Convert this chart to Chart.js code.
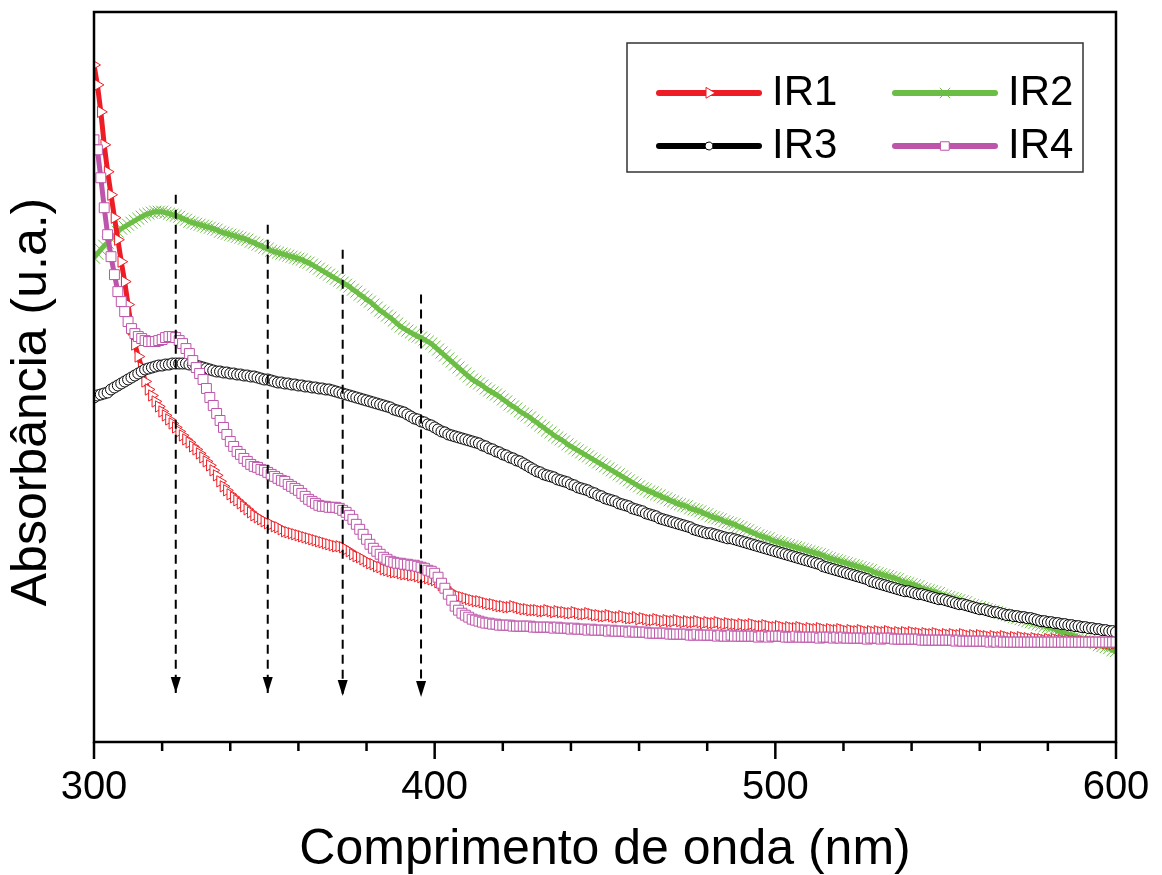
<!DOCTYPE html>
<html>
<head>
<meta charset="utf-8">
<script src="https://cdn.jsdelivr.net/npm/chart.js@4.4.1/dist/chart.umd.min.js"></script>
<style>
    html, body { margin: 0; padding: 0; background: #fff; }
    #wrap { width: 1162px; height: 875px; }
</style>
</head>
<body>
<div id="wrap"><canvas id="uv" width="1162" height="875"></canvas></div>
<script>
// UV-Vis absorbance of samples IR1..IR4 (arbitrary units)
const wavelengths = [];
for (let nm = 300; nm <= 600; nm++) wavelengths.push(nm); // sampling grid, 1 nm

const ir1 = [
    0.678, 0.658, 0.631, 0.598, 0.571, 0.548, 0.525, 0.503, 0.481, 0.461,
    0.438, 0.413, 0.398, 0.386, 0.375, 0.361, 0.353, 0.347, 0.341, 0.336,
    0.331, 0.327, 0.323, 0.319, 0.315, 0.311, 0.307, 0.303, 0.300, 0.296,
    0.293, 0.289, 0.285, 0.281, 0.277, 0.272, 0.267, 0.261, 0.256, 0.252,
    0.248, 0.245, 0.242, 0.239, 0.236, 0.233, 0.230, 0.227, 0.225, 0.223,
    0.221, 0.219, 0.218, 0.216, 0.215, 0.213, 0.211, 0.210, 0.209, 0.208,
    0.207, 0.206, 0.205, 0.204, 0.203, 0.202, 0.201, 0.200, 0.199, 0.198,
    0.197, 0.196, 0.196, 0.195, 0.193, 0.191, 0.188, 0.186, 0.185, 0.183,
    0.181, 0.179, 0.178, 0.176, 0.175, 0.173, 0.172, 0.171, 0.170, 0.170,
    0.169, 0.168, 0.168, 0.167, 0.167, 0.166, 0.165, 0.165, 0.164, 0.163,
    0.162, 0.160, 0.157, 0.155, 0.152, 0.149, 0.147, 0.146, 0.145, 0.144,
    0.143, 0.142, 0.141, 0.141, 0.140, 0.139, 0.138, 0.138, 0.137, 0.136,
    0.136, 0.135, 0.135, 0.136, 0.135, 0.134, 0.133, 0.133, 0.132, 0.132,
    0.132, 0.131, 0.131, 0.132, 0.131, 0.130, 0.131, 0.130, 0.130, 0.129,
    0.129, 0.130, 0.129, 0.128, 0.128, 0.129, 0.128, 0.127, 0.127, 0.126,
    0.126, 0.127, 0.126, 0.125, 0.125, 0.126, 0.125, 0.124, 0.124, 0.125,
    0.123, 0.124, 0.123, 0.122, 0.122, 0.123, 0.122, 0.121, 0.122, 0.121,
    0.121, 0.122, 0.121, 0.120, 0.121, 0.120, 0.120, 0.121, 0.120, 0.119,
    0.120, 0.119, 0.119, 0.120, 0.119, 0.118, 0.119, 0.118, 0.118, 0.117,
    0.118, 0.117, 0.117, 0.118, 0.117, 0.116, 0.116, 0.117, 0.116, 0.115,
    0.115, 0.116, 0.115, 0.114, 0.115, 0.114, 0.114, 0.115, 0.114, 0.113,
    0.114, 0.113, 0.113, 0.114, 0.113, 0.112, 0.113, 0.112, 0.112, 0.113,
    0.112, 0.111, 0.112, 0.111, 0.111, 0.112, 0.111, 0.110, 0.111, 0.110,
    0.111, 0.110, 0.110, 0.111, 0.110, 0.109, 0.110, 0.109, 0.110, 0.109,
    0.110, 0.109, 0.109, 0.108, 0.109, 0.108, 0.108, 0.109, 0.108, 0.107,
    0.108, 0.107, 0.108, 0.107, 0.107, 0.108, 0.107, 0.106, 0.107, 0.106,
    0.107, 0.106, 0.106, 0.105, 0.106, 0.105, 0.105, 0.106, 0.105, 0.104,
    0.105, 0.104, 0.105, 0.104, 0.104, 0.103, 0.104, 0.103, 0.103, 0.102,
    0.103, 0.102, 0.103, 0.102, 0.102, 0.101, 0.102, 0.101, 0.101, 0.100,
    0.101, 0.100, 0.101, 0.100, 0.100, 0.099, 0.100, 0.099, 0.099, 0.098,
    0.099
];
const ir2 = [
    0.485, 0.489, 0.493, 0.497, 0.500, 0.504, 0.507, 0.511, 0.514, 0.516,
    0.518, 0.520, 0.522, 0.524, 0.526, 0.528, 0.529, 0.530, 0.531, 0.531,
    0.531, 0.530, 0.529, 0.528, 0.527, 0.526, 0.524, 0.523, 0.521, 0.520,
    0.519, 0.518, 0.517, 0.516, 0.515, 0.514, 0.513, 0.511, 0.510, 0.509,
    0.508, 0.507, 0.506, 0.505, 0.504, 0.503, 0.501, 0.500, 0.498, 0.497,
    0.495, 0.494, 0.492, 0.491, 0.490, 0.489, 0.488, 0.487, 0.486, 0.485,
    0.484, 0.483, 0.481, 0.480, 0.478, 0.476, 0.474, 0.472, 0.470, 0.468,
    0.466, 0.464, 0.462, 0.460, 0.458, 0.456, 0.453, 0.451, 0.448, 0.446,
    0.443, 0.441, 0.438, 0.435, 0.432, 0.430, 0.427, 0.425, 0.422, 0.419,
    0.416, 0.414, 0.412, 0.410, 0.408, 0.406, 0.405, 0.403, 0.401, 0.399,
    0.396, 0.393, 0.390, 0.387, 0.384, 0.381, 0.378, 0.375, 0.372, 0.369,
    0.366, 0.363, 0.361, 0.359, 0.357, 0.354, 0.352, 0.350, 0.348, 0.346,
    0.343, 0.341, 0.338, 0.336, 0.334, 0.331, 0.329, 0.327, 0.325, 0.322,
    0.320, 0.317, 0.315, 0.312, 0.310, 0.307, 0.305, 0.303, 0.301, 0.298,
    0.296, 0.294, 0.292, 0.290, 0.288, 0.286, 0.284, 0.282, 0.280, 0.278,
    0.276, 0.274, 0.272, 0.270, 0.268, 0.266, 0.264, 0.262, 0.260, 0.258,
    0.256, 0.254, 0.253, 0.251, 0.250, 0.248, 0.247, 0.245, 0.244, 0.242,
    0.241, 0.239, 0.238, 0.237, 0.236, 0.234, 0.233, 0.232, 0.231, 0.229,
    0.228, 0.226, 0.225, 0.224, 0.223, 0.221, 0.220, 0.219, 0.218, 0.216,
    0.215, 0.213, 0.212, 0.210, 0.209, 0.207, 0.206, 0.205, 0.204, 0.202,
    0.201, 0.200, 0.199, 0.198, 0.197, 0.196, 0.195, 0.194, 0.193, 0.192,
    0.191, 0.190, 0.189, 0.188, 0.187, 0.185, 0.184, 0.183, 0.182, 0.181,
    0.180, 0.179, 0.178, 0.177, 0.176, 0.175, 0.174, 0.173, 0.172, 0.170,
    0.169, 0.168, 0.167, 0.166, 0.165, 0.164, 0.163, 0.161, 0.160, 0.159,
    0.158, 0.157, 0.156, 0.154, 0.153, 0.152, 0.151, 0.150, 0.149, 0.147,
    0.146, 0.145, 0.144, 0.143, 0.142, 0.141, 0.140, 0.138, 0.137, 0.136,
    0.135, 0.134, 0.133, 0.132, 0.131, 0.130, 0.129, 0.128, 0.127, 0.126,
    0.125, 0.124, 0.123, 0.122, 0.121, 0.120, 0.119, 0.118, 0.117, 0.116,
    0.115, 0.114, 0.113, 0.111, 0.110, 0.109, 0.108, 0.107, 0.106, 0.104,
    0.103, 0.102, 0.101, 0.100, 0.099, 0.097, 0.096, 0.095, 0.094, 0.092,
    0.091
];
const ir3 = [
    0.345, 0.347, 0.348, 0.349, 0.350, 0.353, 0.355, 0.357, 0.359, 0.361,
    0.363, 0.365, 0.367, 0.369, 0.371, 0.373, 0.374, 0.375, 0.376, 0.377,
    0.377, 0.378, 0.378, 0.379, 0.379, 0.379, 0.379, 0.379, 0.378, 0.378,
    0.377, 0.376, 0.375, 0.374, 0.373, 0.372, 0.371, 0.371, 0.370, 0.370,
    0.369, 0.369, 0.368, 0.368, 0.367, 0.367, 0.366, 0.366, 0.365, 0.364,
    0.363, 0.363, 0.362, 0.361, 0.360, 0.360, 0.359, 0.359, 0.358, 0.358,
    0.357, 0.357, 0.356, 0.356, 0.355, 0.355, 0.354, 0.354, 0.353, 0.353,
    0.352, 0.351, 0.350, 0.349, 0.348, 0.347, 0.346, 0.345, 0.344, 0.343,
    0.342, 0.341, 0.340, 0.339, 0.338, 0.337, 0.336, 0.335, 0.333, 0.332,
    0.331, 0.330, 0.328, 0.326, 0.324, 0.323, 0.321, 0.320, 0.318, 0.317,
    0.315, 0.313, 0.311, 0.310, 0.308, 0.307, 0.306, 0.305, 0.304, 0.303,
    0.302, 0.301, 0.300, 0.299, 0.297, 0.296, 0.294, 0.293, 0.291, 0.290,
    0.288, 0.287, 0.285, 0.284, 0.282, 0.281, 0.279, 0.277, 0.275, 0.273,
    0.271, 0.270, 0.268, 0.267, 0.266, 0.265, 0.263, 0.262, 0.261, 0.260,
    0.258, 0.257, 0.255, 0.254, 0.253, 0.252, 0.250, 0.249, 0.247, 0.246,
    0.244, 0.243, 0.242, 0.241, 0.239, 0.238, 0.237, 0.236, 0.234, 0.233,
    0.232, 0.231, 0.229, 0.228, 0.227, 0.226, 0.224, 0.223, 0.222, 0.221,
    0.220, 0.219, 0.218, 0.217, 0.216, 0.215, 0.213, 0.212, 0.211, 0.210,
    0.209, 0.209, 0.208, 0.207, 0.206, 0.205, 0.204, 0.204, 0.203, 0.202,
    0.201, 0.200, 0.199, 0.198, 0.197, 0.196, 0.195, 0.194, 0.193, 0.192,
    0.191, 0.190, 0.189, 0.188, 0.187, 0.186, 0.185, 0.184, 0.183, 0.182,
    0.181, 0.180, 0.179, 0.178, 0.176, 0.175, 0.174, 0.173, 0.172, 0.171,
    0.170, 0.169, 0.168, 0.167, 0.166, 0.165, 0.164, 0.163, 0.161, 0.160,
    0.159, 0.158, 0.157, 0.156, 0.155, 0.154, 0.153, 0.152, 0.151, 0.151,
    0.150, 0.149, 0.148, 0.148, 0.147, 0.146, 0.145, 0.144, 0.143, 0.143,
    0.142, 0.141, 0.140, 0.139, 0.138, 0.138, 0.137, 0.136, 0.135, 0.134,
    0.133, 0.133, 0.132, 0.131, 0.130, 0.130, 0.129, 0.128, 0.127, 0.127,
    0.126, 0.126, 0.125, 0.125, 0.124, 0.124, 0.123, 0.122, 0.121, 0.121,
    0.120, 0.120, 0.119, 0.119, 0.118, 0.118, 0.117, 0.117, 0.116, 0.116,
    0.115, 0.115, 0.114, 0.114, 0.113, 0.113, 0.112, 0.112, 0.111, 0.111,
    0.110
];
const ir4 = [
    0.603, 0.593, 0.565, 0.535, 0.508, 0.486, 0.468, 0.451, 0.441, 0.431,
    0.421, 0.414, 0.409, 0.406, 0.404, 0.402, 0.401, 0.401, 0.401, 0.402,
    0.403, 0.405, 0.406, 0.406, 0.405, 0.402, 0.399, 0.394, 0.389, 0.382,
    0.375, 0.369, 0.363, 0.354, 0.345, 0.337, 0.329, 0.322, 0.315, 0.308,
    0.301, 0.296, 0.291, 0.288, 0.284, 0.281, 0.278, 0.276, 0.275, 0.273,
    0.272, 0.270, 0.268, 0.266, 0.264, 0.262, 0.261, 0.258, 0.256, 0.254,
    0.252, 0.249, 0.246, 0.243, 0.241, 0.239, 0.237, 0.236, 0.236, 0.235,
    0.235, 0.235, 0.234, 0.232, 0.230, 0.227, 0.223, 0.218, 0.213, 0.208,
    0.203, 0.198, 0.194, 0.191, 0.188, 0.185, 0.183, 0.181, 0.180, 0.179,
    0.179, 0.178, 0.178, 0.177, 0.177, 0.176, 0.175, 0.174, 0.172, 0.171,
    0.169, 0.165, 0.159, 0.154, 0.148, 0.142, 0.136, 0.132, 0.129, 0.127,
    0.125, 0.123, 0.122, 0.121, 0.120, 0.119, 0.119, 0.118, 0.118, 0.117,
    0.117, 0.117, 0.117, 0.116, 0.116, 0.116, 0.116, 0.116, 0.116, 0.115,
    0.115, 0.115, 0.115, 0.115, 0.115, 0.114, 0.115, 0.114, 0.114, 0.114,
    0.113, 0.114, 0.113, 0.113, 0.113, 0.112, 0.113, 0.112, 0.112, 0.112,
    0.112, 0.111, 0.112, 0.111, 0.111, 0.111, 0.111, 0.110, 0.111, 0.110,
    0.110, 0.110, 0.110, 0.109, 0.109, 0.109, 0.109, 0.109, 0.109, 0.108,
    0.108, 0.108, 0.108, 0.108, 0.108, 0.107, 0.107, 0.108, 0.107, 0.107,
    0.107, 0.107, 0.107, 0.106, 0.107, 0.106, 0.106, 0.107, 0.106, 0.106,
    0.106, 0.106, 0.106, 0.106, 0.106, 0.105, 0.106, 0.106, 0.105, 0.106,
    0.106, 0.106, 0.106, 0.105, 0.105, 0.105, 0.106, 0.105, 0.105, 0.105,
    0.105, 0.105, 0.105, 0.104, 0.105, 0.105, 0.105, 0.104, 0.105, 0.104,
    0.105, 0.104, 0.104, 0.104, 0.104, 0.104, 0.104, 0.103, 0.104, 0.104,
    0.104, 0.103, 0.104, 0.104, 0.104, 0.103, 0.103, 0.103, 0.103, 0.103,
    0.103, 0.103, 0.103, 0.102, 0.102, 0.102, 0.102, 0.102, 0.102, 0.102,
    0.102, 0.102, 0.102, 0.101, 0.102, 0.101, 0.101, 0.101, 0.101, 0.101,
    0.101, 0.101, 0.101, 0.100, 0.101, 0.100, 0.101, 0.100, 0.100, 0.100,
    0.100, 0.100, 0.100, 0.100, 0.100, 0.100, 0.100, 0.100, 0.100, 0.100,
    0.100, 0.100, 0.100, 0.100, 0.100, 0.100, 0.100, 0.100, 0.100, 0.100,
    0.100, 0.100, 0.100, 0.100, 0.100, 0.100, 0.100, 0.100, 0.100, 0.100,
    0.100
];

// dashed arrows marking the bands
const arrowNm = [324, 351, 373, 396];
const arrowTop = [0.548, 0.518, 0.493, 0.448];
const arrowTip = [0.049, 0.049, 0.046, 0.045];

const FONT = '"Liberation Sans", Arial, sans-serif';

function series(label, values, color, style, extra) {
    return Object.assign({
        label,
        data: wavelengths.map((x, i) => ({ x, y: values[i] })),
        borderColor: color,
        borderWidth: 5,
        pointStyle: style,
        pointBorderColor: color,
        pointBackgroundColor: '#fff',
        pointBorderWidth: 1,
        tension: 0
    }, extra);
}

const datasets = [
    series('IR1', ir1, '#ee1d25', 'triangle', { order: 3, pointRadius: 6.5, pointRotation: 90, legendRadius: 6 }),
    series('IR2', ir2, '#6cbd45', 'crossRot', { order: 4, pointRadius: 8.5, legendRadius: 7 }),
    series('IR3', ir3, '#000000', 'circle', { order: 2, pointRadius: 5.5, legendRadius: 4 }),
    series('IR4', ir4, '#bd55aa', 'rect', { order: 1, pointRadius: 7, legendRadius: 6 })
];
arrowNm.forEach((nm, i) => {
    datasets.push({
        isArrow: true,
        data: [{ x: nm, y: arrowTop[i] }, { x: nm, y: arrowTip[i] }],
        borderColor: '#000',
        borderWidth: 2,
        borderDash: [9, 6],
        pointRadius: 0,
        order: 0
    });
});

const arrowHeads = {
    id: 'arrowHeads',
    afterDatasetsDraw(chart) {
        const ctx = chart.ctx;
        ctx.save();
        ctx.fillStyle = '#000';
        chart.data.datasets.forEach((ds, i) => {
            if (!ds.isArrow) return;
            const tip = chart.getDatasetMeta(i).data[1];
            ctx.beginPath();
            ctx.moveTo(tip.x, tip.y);
            ctx.lineTo(tip.x - 5, tip.y - 16);
            ctx.lineTo(tip.x + 5, tip.y - 16);
            ctx.closePath();
            ctx.fill();
        });
        ctx.restore();
    }
};

const frame = {
    id: 'frame',
    afterDraw(chart) {
        const { ctx, chartArea: a, scales: { x } } = chart;
        ctx.save();
        ctx.strokeStyle = '#000';
        ctx.lineWidth = 2.5;
        ctx.strokeRect(a.left, a.top, a.right - a.left, a.bottom - a.top);
        // outward ticks, long at the labelled hundreds
        x.ticks.forEach(t => {
            const px = x.getPixelForValue(t.value);
            const len = t.value % 100 === 0 ? 17 : 9;
            ctx.beginPath();
            ctx.moveTo(px, a.bottom);
            ctx.lineTo(px, a.bottom + len);
            ctx.stroke();
        });
        // y title (the axis itself has no ticks)
        ctx.translate(32, a.top + 390);
        ctx.rotate(-Math.PI / 2);
        ctx.fillStyle = '#000';
        ctx.font = '50px ' + FONT;
        ctx.textAlign = 'center';
        ctx.textBaseline = 'middle';
        ctx.fillText('Absorbância (u.a.)', 0, 0);
        ctx.restore();
    }
};

const boxLegend = {
    id: 'boxLegend',
    afterDraw(chart) {
        const { ctx, chartArea: a } = chart;
        const left = a.left + 533, top = a.top + 31;
        ctx.save();
        ctx.lineWidth = 1.5;
        ctx.strokeStyle = '#333';
        ctx.strokeRect(left, top, 456, 129);
        chart.data.datasets.filter(d => !d.isArrow).forEach((ds, i) => {
            const x0 = left + 32 + (i % 2) * 236;
            const y0 = top + 50 + Math.floor(i / 2) * 53;
            ctx.strokeStyle = ds.borderColor;
            ctx.lineWidth = 6;
            ctx.lineCap = 'round';
            ctx.beginPath();
            ctx.moveTo(x0, y0);
            ctx.lineTo(x0 + 100, y0);
            ctx.stroke();
            ctx.fillStyle = '#fff';
            ctx.strokeStyle = ds.pointBorderColor;
            ctx.lineWidth = 1;
            Chart.helpers.drawPoint(ctx, {
                pointStyle: ds.pointStyle,
                rotation: ds.pointRotation || 0,
                radius: ds.legendRadius,
                borderWidth: 1
            }, x0 + 50, y0);
            ctx.fillStyle = '#000';
            ctx.font = '42px ' + FONT;
            ctx.textAlign = 'left';
            ctx.textBaseline = 'middle';
            ctx.fillText(ds.label, x0 + 113, y0);
        });
        ctx.restore();
    }
};

new Chart(document.getElementById('uv'), {
    type: 'line',
    data: { datasets },
    options: {
        responsive: false,
        animation: false,
        devicePixelRatio: 1,
        layout: { padding: { left: 94, right: 46, top: 12, bottom: 0 } },
        plugins: { legend: { display: false }, tooltip: { enabled: false } },
        scales: {
            x: {
                type: 'linear',
                min: 300,
                max: 600,
                border: { display: false },
                grid: { drawOnChartArea: false, drawTicks: true, tickLength: 17, color: 'rgba(0,0,0,0)' },
                ticks: {
                    stepSize: 20,
                    autoSkip: false,
                    maxRotation: 0,
                    padding: 9,
                    color: '#000',
                    font: { family: FONT, size: 40, lineHeight: 1.0 },
                    callback: v => (v % 100 === 0 ? String(v) : '')
                },
                title: {
                    display: true,
                    text: 'Comprimento de onda (nm)',
                    color: '#000',
                    font: { family: FONT, size: 50, lineHeight: 1.0 },
                    padding: { top: 8, bottom: 0 }
                }
            },
            y: {
                display: false,
                min: 0,
                max: 0.731
            }
        }
    },
    plugins: [arrowHeads, frame, boxLegend]
});
</script>
</body>
</html>
